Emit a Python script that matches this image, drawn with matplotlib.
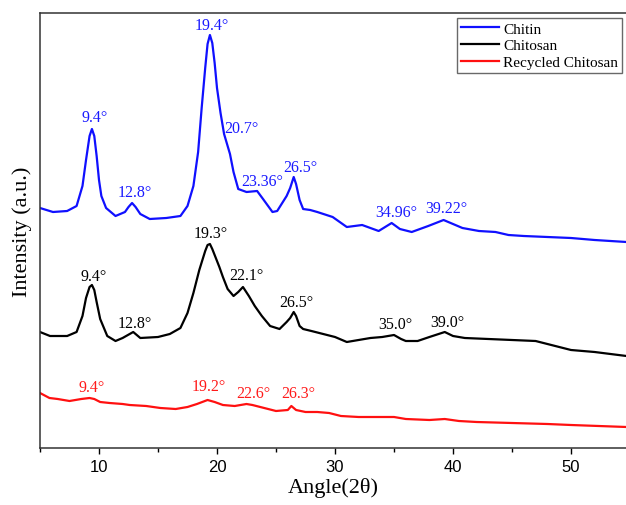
import matplotlib
matplotlib.use('Agg')
import matplotlib.pyplot as plt
from matplotlib.ticker import MultipleLocator

# Curvas (2θ, intensidade em unidades arbitrárias)
chitin_x = [5.0, 6.1, 7.3, 8.1, 8.6, 8.9, 9.2, 9.4, 9.6, 9.8, 10.0, 10.2, 10.6, 11.4, 12.2,
            12.5, 12.8, 13.1, 13.5, 14.3, 15.7, 16.9, 17.5, 18.0, 18.4, 18.7, 19.0, 19.2,
            19.4, 19.6, 19.8, 20.0, 20.3, 20.6, 20.8, 21.1, 21.4, 21.8, 22.5, 23.4, 23.9,
            24.7, 25.1, 25.9, 26.2, 26.5, 26.7, 27.0, 27.3, 27.9, 28.5, 29.8, 31.0, 32.3,
            33.7, 34.8, 35.5, 36.5, 37.9, 39.2, 40.8, 42.2, 43.6, 44.7, 46.0, 48.0, 50.0,
            52.0, 54.7]
chitin_y = [240, 236, 237, 242, 262, 288, 312, 319, 312, 292, 268, 252, 240, 232, 236,
            241, 245, 241, 234, 229, 230, 232, 242, 262, 296, 340, 380, 404,
            413, 405, 385, 360, 335, 314, 306, 294, 276, 259, 256, 257, 249,
            236, 237, 252, 260, 271, 264, 248, 239, 238, 236, 231, 221, 223,
            217, 225, 219, 216, 222, 228, 220, 217, 216, 213, 212, 211, 210,
            208, 206]

chitosan_x = [5.0, 5.85, 7.3, 8.1, 8.6, 8.9, 9.2, 9.4, 9.6, 9.8, 10.1, 10.7, 11.4, 12.0,
              12.9, 13.5, 15.0, 16.0, 16.9, 17.5, 18.0, 18.5, 19.0, 19.2, 19.4, 19.6, 19.9,
              20.2, 20.5, 20.9, 21.4, 21.8, 22.2, 22.7, 23.2, 23.8, 24.5, 25.3, 25.9, 26.2,
              26.5, 26.7, 27.0, 27.3, 28.0, 29.0, 30.0, 31.0, 32.0, 33.0, 34.0, 35.0, 35.6,
              36.0, 37.0, 38.0, 39.3, 40.0, 41.0, 43.0, 45.0, 47.0, 48.0, 50.0, 52.0, 54.7]
chitosan_y = [116, 112, 112, 116, 132, 150, 161, 163, 158, 146, 129, 112, 107, 110,
              116, 110, 111, 114, 120, 135, 155, 178, 197, 203, 204, 199, 190,
              181, 171, 159, 152, 156, 161, 152, 142, 132, 122, 119, 126, 130,
              136, 132, 122, 119, 117, 114, 111, 106, 108, 110, 111, 113, 109,
              107, 107, 111, 116, 112, 110, 109, 108, 107, 104, 98, 96, 92]

recycled_x = [5.0, 5.8, 6.5, 7.5, 8.5, 9.2, 9.6, 10.1, 10.9, 12.0, 12.6, 14.0, 15.2, 16.5,
              17.5, 18.3, 19.2, 19.8, 20.5, 21.5, 22.5, 23.0, 24.0, 25.0, 26.0, 26.3, 26.7,
              27.5, 28.5, 29.5, 30.5, 32.0, 33.5, 35.0, 36.0, 38.0, 39.3, 40.5, 42.0, 45.0,
              48.0, 50.0, 54.7]
recycled_y = [55, 50, 49, 47, 49, 50, 49, 46, 45, 44, 43, 42, 40, 39,
              41, 44, 48, 46, 43, 42, 44, 43, 40, 37, 38, 42, 38,
              36, 36, 35, 32, 31, 31, 31, 29, 28, 29, 27, 26, 25,
              24, 23, 21]

# Rótulos dos picos: (texto, x, y)
chitin_peaks = [('9.4°', 9.66, 331), ('12.8°', 13.05, 256), ('19.4°', 19.58, 423),
                ('20.7°', 22.03, 320), ('23.36°', 23.81, 267), ('26.5°', 27.03, 281),
                ('34.96°', 35.17, 236), ('39.22°', 39.41, 240)]
chitosan_peaks = [('9.4°', 9.58, 172), ('12.8°', 13.05, 125), ('19.3°', 19.49, 215),
                  ('22.1°', 22.46, 173), ('26.5°', 26.69, 146), ('35.0°', 35.08, 124),
                  ('39.0°', 39.49, 126)]
recycled_peaks = [('9.4°', 9.41, 61), ('19.2°', 19.32, 62), ('22.6°', 23.05, 55),
                  ('26.3°', 26.86, 55)]

serif = 'Liberation Serif'

fig = plt.figure(figsize=(6.26, 5.06), dpi=100)
ax = fig.add_axes([40 / 626, 1 - 449 / 506, 1 - 40 / 626, 435 / 506])

ax.plot(chitin_x, chitin_y, color='#1010ff', lw=1.6, label='Chitin')
ax.plot(chitosan_x, chitosan_y, color='black', lw=1.6, label='Chitosan')
ax.plot(recycled_x, recycled_y, color='#ff1010', lw=1.6, label='Recycled Chitosan')

for peaks, cor in [(chitin_peaks, '#1a1aff'), (chitosan_peaks, 'black'), (recycled_peaks, '#ff1a1a')]:
    for txt, px, py in peaks:
        ax.text(px, py, txt, color=cor, fontsize=11.5, family=serif, ha='center', va='center')

ax.set_xlim(5, 54.66)
ax.set_ylim(0, 435)
ax.set_yticks([])
ax.xaxis.set_major_locator(MultipleLocator(10))
ax.xaxis.set_minor_locator(MultipleLocator(5))
ax.tick_params(axis='x', which='major', direction='out', length=4.5, width=1, labelsize=12)
ax.tick_params(axis='x', which='minor', direction='out', length=3, width=1)
for lab in ax.get_xticklabels():
    lab.set_family('Liberation Sans')

ax.spines['right'].set_visible(False)
for s in ['left', 'bottom', 'top']:
    ax.spines[s].set_color('#333333')
    ax.spines[s].set_linewidth(1.1)

ax.set_xlabel('Angle(2θ)', family=serif, fontsize=16, labelpad=2)
ax.set_ylabel('Intensity (a.u.)', family=serif, fontsize=16, labelpad=6)

leg = ax.legend(loc='upper right', bbox_to_anchor=(622 / 626, 1 - 19 / 506),
                bbox_transform=fig.transFigure, prop={'family': serif, 'size': 11},
                fancybox=False, frameon=True, borderpad=0.25, handlelength=2.5,
                handletextpad=0.25, labelspacing=0.2, borderaxespad=0)
leg.get_frame().set_edgecolor('#444444')
leg.get_frame().set_linewidth(1.0)

fig.savefig('out.png', dpi=100)
